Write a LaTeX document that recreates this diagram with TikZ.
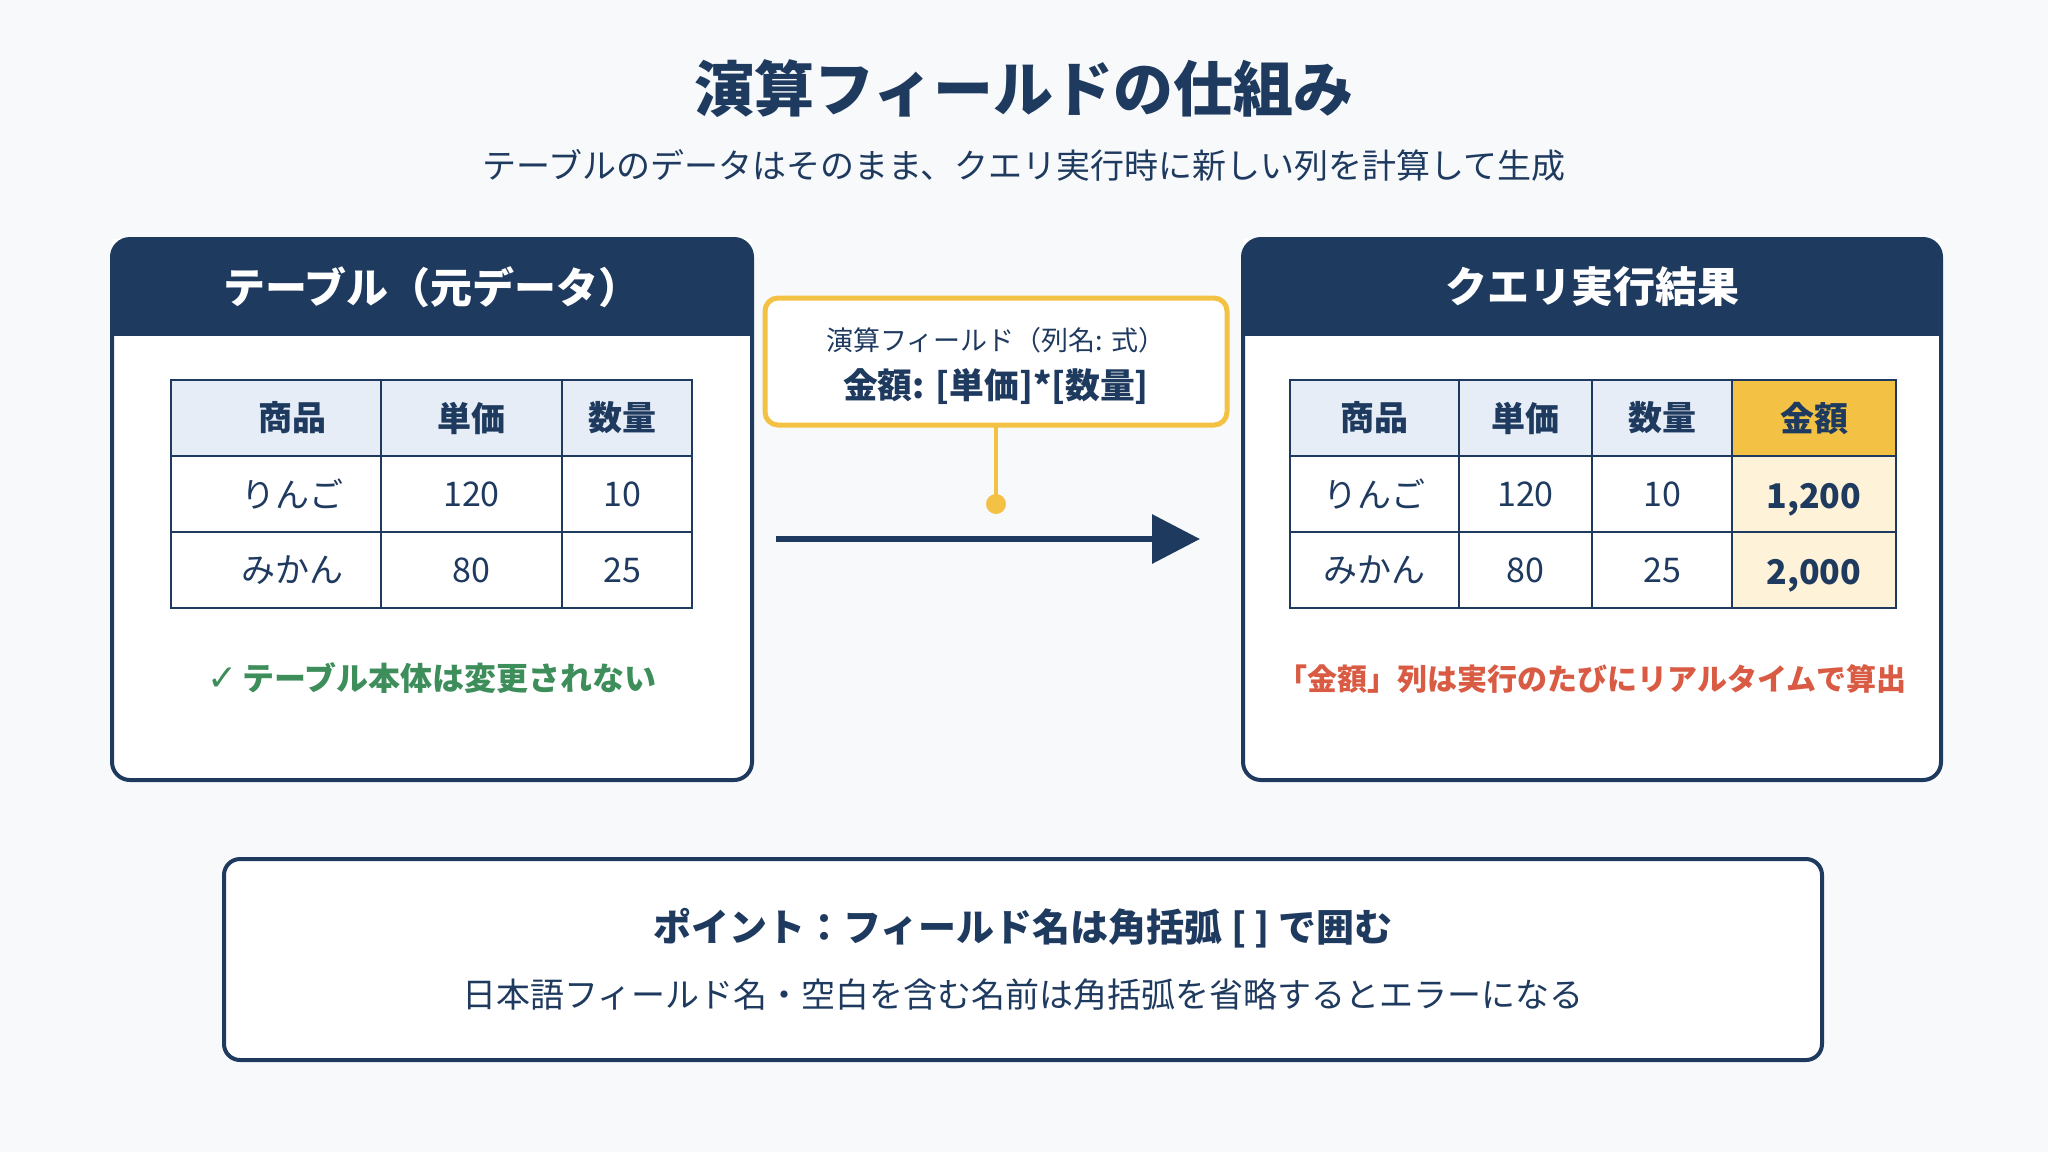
\documentclass[tikz,border=0pt]{standalone}
\usepackage{fontspec}
\setmainfont{Noto Sans CJK JP}
\newfontfamily\symfont{DejaVu Sans}
\usepackage{tikz}
\usetikzlibrary{arrows.meta}

\definecolor{navy}{HTML}{1F3A5F}
\definecolor{gold}{HTML}{F3C244}
\definecolor{paleGold}{HTML}{FEF3D8}
\definecolor{headBg}{HTML}{E6EDF6}
\definecolor{okGreen}{HTML}{3E8E5B}
\definecolor{warnRed}{HTML}{D95B43}
\definecolor{pageBg}{HTML}{F7F9FB}

\begin{document}
\begin{tikzpicture}[x=0.5pt, y=-0.5pt,
    cell/.style={draw=navy, line width=1.25pt, fill=white, minimum height=38pt, inner sep=0pt, outer sep=0pt, text=navy, font=\fontsize{17pt}{20pt}\selectfont},
    hcell/.style={cell, fill=headBg, font=\fontsize{17pt}{20pt}\selectfont\bfseries},
    kcell/.style={cell, fill=gold, font=\fontsize{17pt}{20pt}\selectfont\bfseries},
    vcell/.style={cell, fill=paleGold, font=\fontsize{17pt}{20pt}\selectfont\bfseries},
    panel/.style={fill=white, inner sep=0pt, outer sep=0pt},
    headtxt/.style={text=white, font=\fontsize{21pt}{25pt}\selectfont\bfseries}]
    \useasboundingbox (0,0) rectangle (2048,1152);
    \fill[pageBg] (0,0) rectangle (2048,1152);

    % title
    \node[text=navy, font=\fontsize{30pt}{36pt}\selectfont\bfseries] (title) at (1024,89) {演算フィールドの仕組み};
    \node[text=navy, font=\fontsize{17pt}{21pt}\selectfont] (subtitle) at (1024,165) {テーブルのデータはそのまま、クエリ実行時に新しい列を計算して生成};

    % left panel
    \node[panel, minimum width=320pt, minimum height=270.5pt] (lpanel) at (432,509.5) {};
    \begin{scope}
        \clip[rounded corners=9pt] (lpanel.south west) rectangle (lpanel.north east);
        \fill[navy] (lpanel.north west) rectangle ([yshift=-48.5pt]lpanel.north east);
    \end{scope}
    \draw[navy, line width=2pt, rounded corners=9pt] (lpanel.south west) rectangle (lpanel.north east);
    \node[headtxt] (lhead) at (432,287) {テーブル（元データ）};

    \foreach \cx/\w/\t [count=\i] in {276/210/\hspace*{16pt}商品, 471.5/181/単価, 627/130/数量\hspace*{5pt}}
        \node[hcell, minimum width=\w*0.5pt] (lh\i) at (\cx,418) {\t};
    \foreach \y/\a/\b/\c [count=\r] in {494/りんご/120/10, 570/みかん/80/25} {
        \node[cell, minimum width=105pt] (la\r) at (276,\y) {\hspace*{16pt}\a};
        \node[cell, minimum width=90.5pt] (lb\r) at (471.5,\y) {\b};
        \node[cell, minimum width=65pt] (lc\r) at (627,\y) {\c\hspace*{5pt}};
    }
    \node[text=okGreen, font=\fontsize{16pt}{19pt}\selectfont\bfseries] (keep) at (432,678) {{\symfont\fontsize{18pt}{19pt}\selectfont ✓}\,テーブル本体は変更されない};

    % right panel
    \node[panel, minimum width=349pt, minimum height=270.5pt] (rpanel) at (1592,509.5) {};
    \begin{scope}
        \clip[rounded corners=9pt] (rpanel.south west) rectangle (rpanel.north east);
        \fill[navy] (rpanel.north west) rectangle ([yshift=-48.5pt]rpanel.north east);
    \end{scope}
    \draw[navy, line width=2pt, rounded corners=9pt] (rpanel.south west) rectangle (rpanel.north east);
    \node[headtxt] (rhead) at (1592,287) {クエリ実行結果};

    \foreach \cx/\w/\t [count=\i] in {1374.5/169/商品, 1525.5/133/単価, 1662/140/数量}
        \node[hcell, minimum width=\w*0.5pt] (rh\i) at (\cx,418) {\t};
    \node[kcell, minimum width=82pt] (rh4) at (1814,418) {金額};
    \foreach \y/\a/\b/\c [count=\r] in {494/りんご/120/10, 570/みかん/80/25} {
        \node[cell, minimum width=84.5pt] (ra\r) at (1374.5,\y) {\a};
        \node[cell, minimum width=66.5pt] (rb\r) at (1525.5,\y) {\b};
        \node[cell, minimum width=70pt] (rc\r) at (1662,\y) {\c};
    }
    \node[vcell, minimum width=82pt] (rk1) at (1814,494) {\raisebox{-3pt}[\height][\depth]{1,200}};
    \node[vcell, minimum width=82pt] (rk2) at (1814,570) {\raisebox{-3pt}[\height][\depth]{2,000}};
    \node[text=warnRed, font=\fontsize{15pt}{18pt}\selectfont\bfseries] (live) at (1592,679) {「金額」列は実行のたびにリアルタイムで算出};

    % formula callout and arrow
    \node[draw=gold, line width=2.5pt, fill=white, rounded corners=6.5pt, minimum width=231pt, minimum height=63.5pt, outer sep=0pt] (formula) at (996,361.5) {};
    \node[text=navy, font=\fontsize{13.5pt}{16pt}\selectfont] (fcap) at (996,340) {演算フィールド（列名: 式）};
    \node[text=navy, font=\fontsize{17.4pt}{21pt}\selectfont\bfseries] (fexpr) at (996,387) {金額: [単価]*[数量]};
    \node[circle, fill=gold, inner sep=0pt, minimum size=10pt] (dot) at (996,504) {};
    \draw[gold, line width=2pt] (formula.south) -- (dot.center);
    \coordinate (arrS) at (776,539);
    \coordinate (arrE) at (1200,539);
    \draw[navy, line width=3.3pt, -{Triangle[length=24pt,width=24pt]}] (arrS) -- (arrE);

    % point box
    \node[draw=navy, line width=2pt, fill=white, rounded corners=8pt, minimum width=799pt, minimum height=100.5pt] (point) at (1023,959.5) {};
    \node[text=navy, font=\fontsize{19pt}{23pt}\selectfont\bfseries] (ptitle) at (1023,928) {ポイント：フィールド名は角括弧 [ ] で囲む};
    \node[text=navy, font=\fontsize{17pt}{20pt}\selectfont] (pnote) at (1023,995) {日本語フィールド名・空白を含む名前は角括弧を省略するとエラーになる};
\end{tikzpicture}
\end{document}
